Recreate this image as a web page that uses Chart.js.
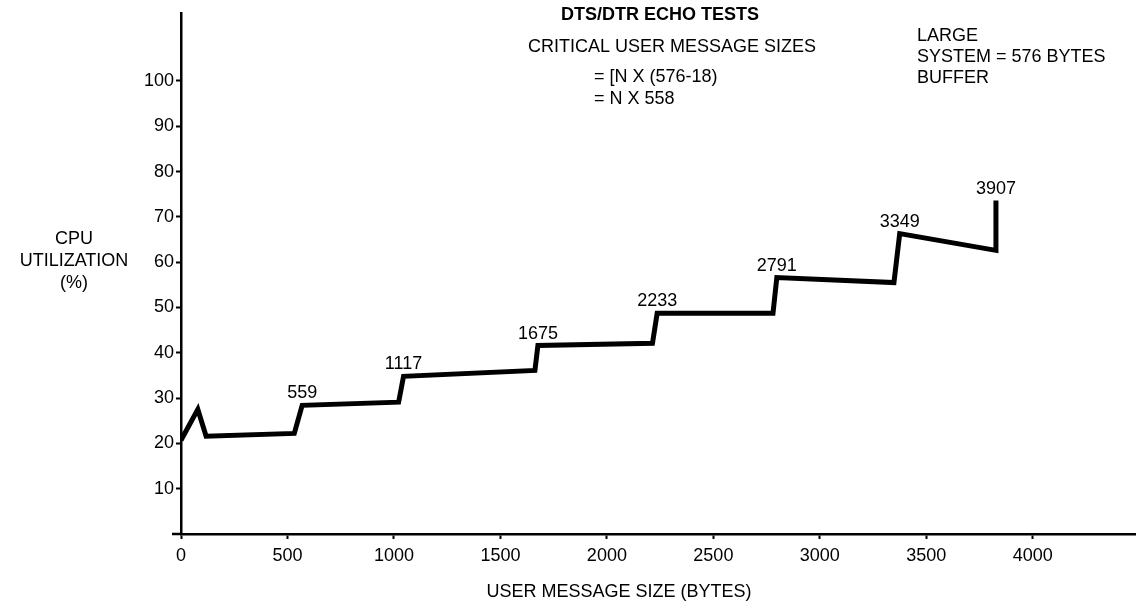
<!DOCTYPE html>
<html>
<head>
<meta charset="utf-8">
<title>DTS/DTR Echo Tests</title>
<script src="https://cdn.jsdelivr.net/npm/chart.js@4.4.1/dist/chart.umd.min.js"></script>
<style>
  html, body { margin: 0; padding: 0; background: #fff; }
  canvas { display: block; }
</style>
</head>
<body>
<canvas id="echoChart" width="1139" height="608"></canvas>
<script>
// user message size (bytes) and CPU utilization (%)
const messageSize = [0, 79, 118, 532, 569, 1022, 1045, 1662, 1676, 2214, 2236, 2780, 2798, 3348, 3375, 3827, 3827];
const cpuUtil = [20.7, 27.5, 21.6, 22.2, 28.4, 29.1, 34.8, 36.1, 41.6, 42.1, 48.7, 48.7, 56.6, 55.5, 66.3, 62.6, 73.6];

// critical user message sizes = N x 558 (+1)
const criticalSizes = [559, 1117, 1675, 2233, 2791, 3349, 3907];

const xTickValues = [0, 500, 1000, 1500, 2000, 2500, 3000, 3500, 4000];
const yTickValues = [10, 20, 30, 40, 50, 60, 70, 80, 90, 100];

const FONT = "'Liberation Sans', Arial, Helvetica, sans-serif";
Chart.defaults.font.family = FONT;
Chart.defaults.color = '#000';

// labels over each step + the free text of the figure
const notesPlugin = {
    id: 'notes',
    afterDraw(chart) {
        const ctx = chart.ctx;
        const area = chart.chartArea;
        const meta = chart.getDatasetMeta(0);
        ctx.save();
        ctx.fillStyle = '#000';

        // little overhang of the x axis left of the y axis
        ctx.strokeStyle = '#000';
        ctx.lineWidth = 2.5;
        ctx.beginPath();
        ctx.moveTo(area.left - 9, area.bottom);
        ctx.lineTo(area.left, area.bottom);
        ctx.stroke();

        ctx.font = '18px ' + FONT;
        ctx.textAlign = 'center';
        ctx.textBaseline = 'middle';
        criticalSizes.forEach(size => {
            // top of the step nearest that size
            let best = -1;
            messageSize.forEach((x, i) => {
                if (Math.abs(x - size) <= 100 && (best < 0 || cpuUtil[i] > cpuUtil[best])) best = i;
            });
            if (best < 0) return;
            const pt = meta.data[best];
            ctx.fillText(String(size), pt.x, pt.y - 12);
        });

        // y axis title, horizontal on three lines
        ctx.fillText('CPU', 74, 239);
        ctx.fillText('UTILIZATION', 74, 261);
        ctx.fillText('(%)', 74, 283);

        // x axis title
        ctx.fillText('USER MESSAGE SIZE (BYTES)', 619, 592);

        // heading
        ctx.font = 'bold 18px ' + FONT;
        ctx.fillText('DTS/DTR ECHO TESTS', 660, 15);
        ctx.font = '18px ' + FONT;
        ctx.fillText('CRITICAL USER MESSAGE SIZES', 672, 47);
        ctx.textAlign = 'left';
        ctx.fillText('= [N X (576-18)', 594, 77);
        ctx.fillText('= N X 558', 594, 99);

        ctx.fillText('LARGE', 917, 36);
        ctx.fillText('SYSTEM = 576 BYTES', 917, 57);
        ctx.fillText('BUFFER', 917, 78);
        ctx.restore();
    }
};

const ctx = document.getElementById('echoChart').getContext('2d');
new Chart(ctx, {
    type: 'scatter',
    data: {
        datasets: [{
            label: 'CPU utilization',
            data: messageSize.map((x, i) => ({ x: x, y: cpuUtil[i] })),
            showLine: true,
            borderColor: '#000',
            backgroundColor: '#000',
            borderWidth: 5,
            borderJoinStyle: 'miter',
            borderCapStyle: 'butt',
            pointRadius: 0,
            pointHoverRadius: 0,
            tension: 0
        }]
    },
    options: {
        responsive: false,
        animation: false,
        layout: { padding: { top: 13, right: 4, left: 0, bottom: 0 } },
        plugins: {
            legend: { display: false },
            tooltip: { enabled: false }
        },
        scales: {
            x: {
                type: 'linear',
                min: 0,
                max: 4480,
                afterBuildTicks: scale => { scale.ticks = xTickValues.map(v => ({ value: v })); },
                afterFit: scale => { scale.height = 74; },
                grid: {
                    drawOnChartArea: false,
                    drawTicks: true,
                    tickLength: 5,
                    tickColor: '#000',
                    tickWidth: 2
                },
                border: { display: true, color: '#000', width: 2.5 },
                ticks: {
                    padding: 6,
                    maxRotation: 0,
                    font: { size: 18 },
                    color: '#000',
                    callback: value => String(value)
                }
            },
            y: {
                type: 'linear',
                min: 0,
                max: 115,
                afterBuildTicks: scale => { scale.ticks = yTickValues.map(v => ({ value: v })); },
                afterFit: scale => { scale.width = 181; },
                grid: {
                    drawOnChartArea: false,
                    drawTicks: true,
                    tickLength: 5,
                    tickColor: '#000',
                    tickWidth: 2
                },
                border: { display: true, color: '#000', width: 2.5 },
                ticks: {
                    padding: 2,
                    font: { size: 18 },
                    color: '#000',
                    callback: value => String(value)
                }
            }
        }
    },
    plugins: [notesPlugin]
});
</script>
</body>
</html>
